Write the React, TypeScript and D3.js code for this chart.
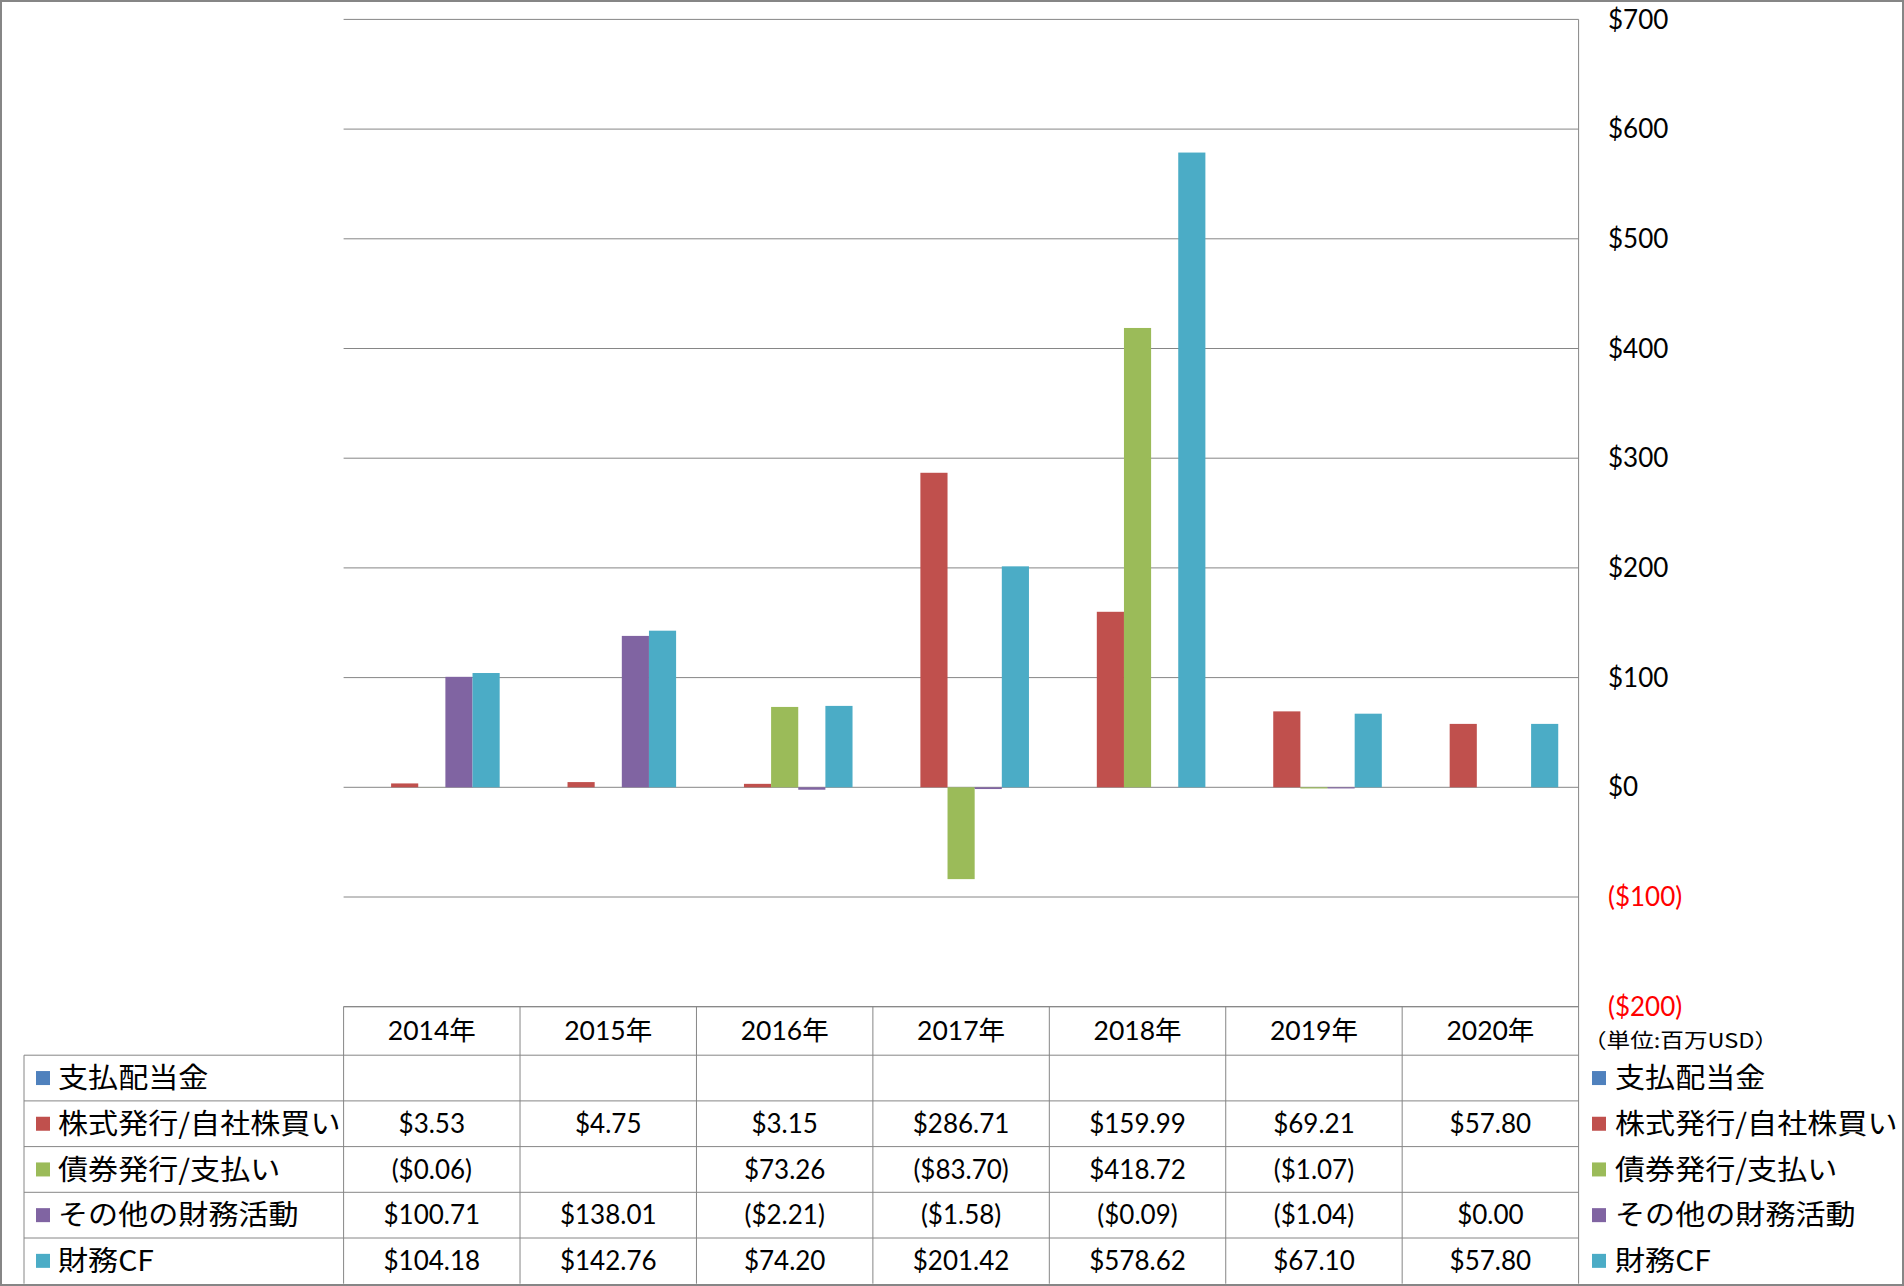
import React from "react";
import * as d3 from "d3";

const years = ["2014年", "2015年", "2016年", "2017年", "2018年", "2019年", "2020年"];
const seriesNames = ["支払配当金", "株式発行/自社株買い", "債券発行/支払い", "その他の財務活動", "財務CF"];
const seriesColors = ["#4F81BD", "#C0504D", "#9BBB59", "#8064A2", "#4BACC6"];
const dividends: (number | null)[] = [null, null, null, null, null, null, null];
const equity: (number | null)[] = [3.53, 4.75, 3.15, 286.71, 159.99, 69.21, 57.8];
const debt: (number | null)[] = [-0.06, null, 73.26, -83.7, 418.72, -1.07, null];
const other: (number | null)[] = [100.71, 138.01, -2.21, -1.58, -0.09, -1.04, 0.0];
const financingCF: (number | null)[] = [104.18, 142.76, 74.2, 201.42, 578.62, 67.1, 57.8];
const seriesValues = [dividends, equity, debt, other, financingCF];
const yTicks = [-200, -100, 0, 100, 200, 300, 400, 500, 600, 700];
const unitLabel = "（単位:百万USD）";

const W = 1904;
const H = 1286;
const plotLeft = 343.6;
const plotRight = 1578.6;
const plotTop = 19.4;
const plotBottom = 1006.7;
const headerH = 48.5;
const rowH = 45.7;
const legendColLeft = 24;
const gridColor = "#868686";
const numFont = "Lato, 'Noto Sans CJK JP', sans-serif";
const cjkFont = "'Noto Sans CJK JP', sans-serif";

const fmtNum = d3.format(",.2f");
const fmtCell = (v: number | null) =>
  v === null ? "" : v < 0 ? `($${fmtNum(-v)})` : `$${fmtNum(v)}`;
const fmtTick = (v: number) => (v < 0 ? `($${-v})` : `$${v}`);

export default function App() {
  const x0 = d3.scaleBand<string>().domain(years).range([plotLeft, plotRight]).paddingInner(0).paddingOuter(0);
  const x1 = d3
    .scaleBand<string>()
    .domain(seriesNames)
    .range([0, x0.bandwidth()])
    .paddingInner(0)
    .paddingOuter(0.75);
  const y = d3.scaleLinear().domain([-200, 700]).range([plotBottom, plotTop]);

  const rowTop = (i: number) => plotBottom + headerH + i * rowH;
  const tableBottom = rowTop(5);

  return (
    <svg
      width={W}
      height={H}
      style={{ position: "absolute", left: 0, top: 0, display: "block", background: "#fff" }}
    >
      <rect x={0} y={0} width={W} height={H} fill="#fff" />
      {/* gridlines */}
      {yTicks.map((t) => (
        <line key={t} x1={plotLeft} x2={plotRight} y1={y(t)} y2={y(t)} stroke={gridColor} strokeWidth={1} />
      ))}
      {/* bars */}
      {years.map((yr, ci) => (
        <g key={yr} transform={`translate(${x0(yr)},0)`}>
          {seriesNames.map((s, si) => {
            const v = seriesValues[si][ci];
            if (v === null || v === 0) return null;
            const y0 = y(0);
            const yv = y(v);
            return (
              <rect
                key={s}
                x={x1(s)}
                width={x1.bandwidth()}
                y={Math.min(y0, yv)}
                height={Math.abs(yv - y0)}
                fill={seriesColors[si]}
              />
            );
          })}
        </g>
      ))}
      {/* right axis line */}
      <line x1={plotRight} x2={plotRight} y1={plotTop} y2={tableBottom} stroke={gridColor} strokeWidth={1} />
      {/* tick labels */}
      {yTicks.map((t) => (
        <text
          key={t}
          x={1608}
          y={y(t)}
          dy="0.35em"
          fontFamily={numFont}
          fontSize={26}
          fill={t < 0 ? "#FF0000" : "#000"}
        >
          {fmtTick(t)}
        </text>
      ))}
      <text
        transform={`translate(1583,1041) scale(1.18,1)`}
        dy="0.35em"
        fontFamily={cjkFont}
        fontSize={20}
        fill="#000"
      >
        {unitLabel}
      </text>
      {/* data table */}
      <g>
        <line x1={plotLeft} x2={plotRight} y1={plotBottom} y2={plotBottom} stroke={gridColor} />
        {years.map((yr) => (
          <text
            key={yr}
            x={(x0(yr) as number) + x0.bandwidth() / 2}
            y={plotBottom + headerH / 2}
            dy="0.35em"
            textAnchor="middle"
            fontFamily={numFont}
            fontSize={26.5}
            fill="#000"
          >
            {yr}
          </text>
        ))}
        {years.map((yr) => (
          <line
            key={yr}
            x1={x0(yr)}
            x2={x0(yr)}
            y1={plotBottom}
            y2={tableBottom}
            stroke={gridColor}
          />
        ))}
        <line x1={legendColLeft} x2={legendColLeft} y1={rowTop(0)} y2={tableBottom} stroke={gridColor} />
        {[0, 1, 2, 3, 4].map((i) => (
          <line key={i} x1={legendColLeft} x2={plotRight} y1={rowTop(i)} y2={rowTop(i)} stroke={gridColor} />
        ))}
        {seriesNames.map((s, si) => {
          const cy = rowTop(si) + rowH / 2;
          return (
            <g key={s}>
              <rect x={36} y={cy - 7} width={14} height={14} fill={seriesColors[si]} />
              <text
                transform={`translate(58,${cy}) scale(1.075,1)`}
                dy="0.36em"
                fontFamily={cjkFont}
                fontSize={28}
                fill="#000"
              >
                {s}
              </text>
              {years.map((yr, ci) => (
                <text
                  key={yr}
                  x={(x0(yr) as number) + x0.bandwidth() / 2}
                  y={cy}
                  dy="0.35em"
                  textAnchor="middle"
                  fontFamily={numFont}
                  fontSize={26}
                  fill="#000"
                >
                  {fmtCell(seriesValues[si][ci])}
                </text>
              ))}
              <rect x={1592} y={cy - 7} width={14} height={14} fill={seriesColors[si]} />
              <text
                transform={`translate(1615,${cy}) scale(1.075,1)`}
                dy="0.36em"
                fontFamily={cjkFont}
                fontSize={28}
                fill="#000"
              >
                {s}
              </text>
            </g>
          );
        })}
      </g>
      {/* outer border */}
      <rect x={1} y={1} width={W - 2} height={H - 2} fill="none" stroke={gridColor} strokeWidth={2} />
    </svg>
  );
}
